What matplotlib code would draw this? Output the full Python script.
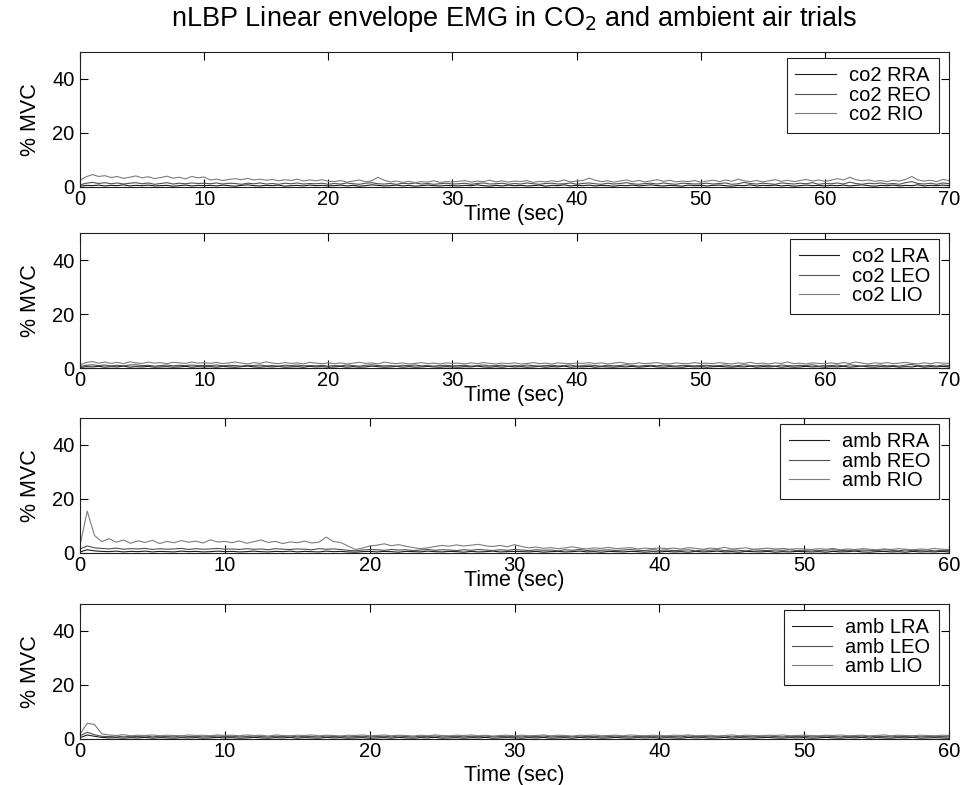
import numpy as np
import matplotlib
matplotlib.use('Agg')
import matplotlib.pyplot as plt

plt.rcParams['font.family'] = ['Liberation Sans', 'DejaVu Sans']

# sample times (s), half-second resolution
t_co2 = np.arange(0, 70.5, 0.5)
t_amb = np.arange(0, 60.5, 0.5)

# ---- co2, right side (% MVC) ----
co2_RRA = [0.3, 0.6, 0.5, 0.7, 0.4, 0.6, 0.5, 0.8, 0.4, 0.6, 0.5, 0.7, 0.4, 0.5, 0.6, 0.3, 0.5, 0.7, 0.4, 0.6, 0.5,
           0.6, 0.4, 0.7, 0.5, 0.3, 0.6, 0.8, 0.5, 0.4, 0.6, 0.5, 0.7, 0.3, 0.5, 0.6, 0.4, 0.7, 0.5, 0.6, 0.4,
           0.5, 0.7, 0.4, 0.6, 0.3, 0.5, 0.8, 0.6, 0.4, 0.5, 0.7, 0.4, 0.6, 0.3, 0.5, 0.7, 0.5, 0.4, 0.6, 0.5,
           0.4, 0.6, 0.5, 0.8, 0.5, 0.3, 0.6, 0.4, 0.7, 0.5, 0.6, 0.4, 0.5, 0.7, 0.3, 0.6, 0.5, 0.8, 0.4, 0.6,
           0.5, 0.7, 0.4, 0.6, 0.5, 0.3, 0.6, 0.5, 0.7, 0.4, 0.6, 0.8, 0.5, 0.4, 0.6, 0.5, 0.3, 0.7, 0.5, 0.6,
           0.4, 0.6, 0.7, 0.5, 0.3, 0.6, 0.5, 0.8, 0.4, 0.6, 0.5, 0.7, 0.4, 0.6, 0.3, 0.5, 0.7, 0.5, 0.6, 0.4,
           0.6, 0.5, 0.7, 0.4, 0.6, 0.8, 0.5, 0.3, 0.6, 0.5, 0.7, 0.4, 0.6, 0.5, 0.8, 0.4, 0.6, 0.5, 0.7, 0.5]
co2_REO = [0.8, 1.4, 1.7, 1.3, 1.6, 1.2, 1.5, 1.1, 1.4, 1.6, 1.2, 1.5, 1.0, 1.3, 1.6, 1.1, 1.4, 1.2, 1.5, 1.3, 1.4,
           1.2, 1.5, 1.1, 1.4, 1.3, 1.0, 1.4, 1.2, 1.5, 1.1, 1.3, 1.0, 1.4, 1.2, 1.5, 1.1, 1.3, 1.2, 1.4, 1.0,
           1.3, 1.1, 1.5, 1.2, 1.0, 1.4, 1.6, 1.2, 1.1, 1.3, 1.0, 1.4, 1.2, 1.5, 1.1, 1.3, 1.0, 1.2, 1.4, 1.1,
           1.2, 1.4, 1.0, 1.3, 1.5, 1.1, 1.2, 1.4, 1.0, 1.3, 1.1, 1.5, 1.2, 1.0, 1.3, 1.4, 1.1, 1.2, 1.5, 1.0,
           1.3, 1.5, 1.2, 1.0, 1.4, 1.1, 1.3, 1.6, 1.2, 1.0, 1.3, 1.4, 1.1, 1.5, 1.2, 1.0, 1.4, 1.3, 1.1, 1.2,
           1.4, 1.1, 1.3, 1.5, 1.0, 1.2, 1.7, 1.3, 1.1, 1.4, 1.2, 1.0, 1.5, 1.3, 1.1, 1.4, 1.2, 1.6, 1.0, 1.3,
           1.2, 1.5, 1.1, 1.8, 1.3, 1.0, 1.4, 1.2, 1.5, 1.1, 1.3, 1.0, 1.6, 2.0, 1.3, 1.1, 1.4, 1.0, 1.5, 1.2]
co2_RIO = [2.5, 3.8, 4.6, 3.9, 4.2, 3.5, 3.9, 3.2, 3.6, 4.1, 3.4, 3.8, 3.1, 3.5, 4.0, 3.3, 3.6, 3.0, 3.9, 3.4, 3.7,
           2.6, 2.9, 2.4, 2.8, 3.1, 2.7, 3.2, 2.6, 2.9, 2.5, 2.8, 2.3, 2.7, 2.4, 2.9, 2.2, 2.6, 2.3, 2.7, 2.1,
           2.0, 2.4, 1.8, 2.2, 2.6, 1.9, 2.3, 3.6, 2.5, 1.9, 2.2, 1.7, 2.1, 1.6, 2.0, 1.8, 2.3, 1.7, 2.0, 1.9,
           2.1, 2.4, 1.8, 2.2, 2.0, 2.5, 1.9, 2.3, 1.8, 2.2, 2.0, 2.4, 1.7, 2.1, 1.9, 2.3, 2.0, 2.6, 1.9, 2.2,
           2.4, 3.3, 2.5, 2.0, 2.3, 1.8, 2.2, 2.6, 2.0, 2.4, 1.9, 2.3, 2.7, 2.1, 2.5, 1.9, 2.2, 2.0, 2.4, 1.8,
           2.2, 2.5, 2.0, 2.6, 2.1, 2.9, 2.3, 2.0, 2.4, 1.9, 2.3, 2.7, 2.1, 2.5, 2.0, 2.4, 2.8, 2.2, 2.6, 2.1,
           2.5, 3.1, 2.6, 3.6, 2.7, 2.3, 2.6, 2.1, 2.4, 2.0, 2.5, 2.2, 2.8, 3.9, 2.6, 2.2, 2.5, 2.0, 2.8, 2.4]

# ---- co2, left side ----
co2_LRA = [0.2, 0.5, 0.4, 0.6, 0.3, 0.5, 0.4, 0.7, 0.3, 0.5, 0.4, 0.6, 0.3, 0.4, 0.5, 0.3, 0.4, 0.6, 0.3, 0.5, 0.4,
           0.5, 0.3, 0.6, 0.4, 0.3, 0.5, 0.7, 0.4, 0.3, 0.5, 0.4, 0.6, 0.3, 0.4, 0.5, 0.3, 0.6, 0.4, 0.5, 0.3,
           0.4, 0.6, 0.3, 0.5, 0.3, 0.4, 0.7, 0.5, 0.3, 0.4, 0.6, 0.3, 0.5, 0.3, 0.4, 0.6, 0.4, 0.3, 0.5, 0.4,
           0.3, 0.5, 0.4, 0.7, 0.4, 0.3, 0.5, 0.3, 0.6, 0.4, 0.5, 0.3, 0.4, 0.6, 0.3, 0.5, 0.4, 0.7, 0.3, 0.5,
           0.4, 0.6, 0.3, 0.5, 0.4, 0.3, 0.5, 0.4, 0.6, 0.3, 0.5, 0.7, 0.4, 0.3, 0.5, 0.4, 0.3, 0.6, 0.4, 0.5,
           0.3, 0.5, 0.6, 0.4, 0.3, 0.5, 0.4, 0.7, 0.3, 0.5, 0.4, 0.6, 0.3, 0.5, 0.3, 0.4, 0.6, 0.4, 0.5, 0.3,
           0.5, 0.4, 0.6, 0.3, 0.5, 0.7, 0.4, 0.3, 0.5, 0.4, 0.6, 0.3, 0.5, 0.4, 0.7, 0.3, 0.5, 0.4, 0.6, 0.4]
co2_LEO = [0.6, 1.0, 1.2, 0.9, 1.1, 0.8, 1.0, 0.8, 1.1, 1.2, 0.9, 1.0, 0.7, 0.9, 1.1, 0.8, 1.0, 0.9, 1.1, 0.9, 1.0,
           0.9, 1.1, 0.8, 1.0, 0.9, 0.7, 1.0, 0.9, 1.1, 0.8, 0.9, 0.7, 1.0, 0.9, 1.1, 0.8, 0.9, 0.8, 1.0, 0.7,
           0.9, 0.8, 1.1, 0.9, 0.7, 1.0, 1.2, 0.9, 0.8, 0.9, 0.7, 1.0, 0.9, 1.1, 0.8, 0.9, 0.7, 0.9, 1.0, 0.8,
           0.9, 1.0, 0.7, 0.9, 1.1, 0.8, 0.9, 1.0, 0.7, 0.9, 0.8, 1.1, 0.9, 0.7, 0.9, 1.0, 0.8, 0.9, 1.1, 0.7,
           0.9, 1.1, 0.9, 0.7, 1.0, 0.8, 0.9, 1.2, 0.9, 0.7, 0.9, 1.0, 0.8, 1.1, 0.9, 0.7, 1.0, 0.9, 0.8, 0.9,
           1.0, 0.8, 0.9, 1.1, 0.7, 0.9, 1.2, 0.9, 0.8, 1.0, 0.9, 0.7, 1.1, 0.9, 0.8, 1.0, 0.9, 1.2, 0.7, 0.9,
           0.9, 1.1, 0.8, 1.2, 0.9, 0.7, 1.0, 0.9, 1.1, 0.8, 0.9, 0.7, 1.1, 1.3, 0.9, 0.8, 1.0, 0.7, 1.1, 0.9]
co2_LIO = [1.2, 2.0, 2.4, 1.8, 2.2, 1.7, 2.1, 1.6, 2.3, 1.9, 1.7, 2.2, 1.8, 2.0, 1.6, 2.1, 1.9, 1.7, 2.2, 1.8, 2.0,
           1.7, 2.1, 1.6, 1.9, 2.2, 1.8, 1.5, 2.0, 1.7, 2.3, 1.8, 1.6, 2.0, 1.7, 1.9, 1.5, 2.1, 1.8, 1.6, 1.9,
           1.6, 1.9, 1.5, 1.8, 2.1, 1.7, 1.9, 1.5, 2.2, 1.8, 1.6, 1.9, 1.5, 1.7, 2.0, 1.6, 1.8, 1.5, 1.9, 1.7,
           1.8, 1.5, 1.9, 1.6, 2.0, 1.7, 1.5, 1.8, 1.6, 1.9, 1.5, 1.7, 2.0, 1.6, 1.8, 1.5, 1.9, 1.7, 1.6, 1.8,
           1.7, 2.0, 1.6, 1.9, 1.5, 1.8, 2.1, 1.7, 1.5, 1.9, 1.6, 1.8, 2.0, 1.6, 1.5, 1.9, 1.7, 1.6, 2.0, 1.7,
           1.8, 1.6, 2.0, 1.7, 1.5, 1.9, 1.7, 2.1, 1.6, 1.8, 1.5, 1.9, 1.7, 2.2, 1.6, 1.8, 1.5, 1.9, 1.7, 1.6,
           1.9, 1.6, 2.0, 1.7, 2.2, 1.8, 1.5, 1.9, 1.7, 2.0, 1.6, 1.8, 2.1, 1.7, 1.5, 1.9, 1.6, 2.0, 1.8, 1.7]

# ---- ambient, right side ----
amb_RRA = [0.4, 1.2, 0.8, 0.6, 0.5, 0.7, 0.4, 0.6, 0.5, 0.7, 0.4, 0.6, 0.5, 0.4, 0.7, 0.5, 0.6, 0.4, 0.5, 0.7, 0.5,
           0.6, 0.4, 0.5, 0.7, 0.5, 0.4, 0.6, 0.5, 0.7, 0.4, 0.6, 0.5, 0.4, 0.7, 0.5, 0.6, 0.4, 0.3, 0.5, 0.6,
           0.4, 0.6, 0.5, 0.3, 0.6, 0.5, 0.4, 0.7, 0.5, 0.4, 0.6, 0.5, 0.3, 0.6, 0.4, 0.5, 0.7, 0.4, 0.5, 0.6,
           0.5, 0.4, 0.6, 0.3, 0.5, 0.6, 0.4, 0.5, 0.7, 0.4, 0.5, 0.3, 0.6, 0.5, 0.4, 0.6, 0.5, 0.3, 0.5, 0.4,
           0.6, 0.4, 0.5, 0.3, 0.6, 0.4, 0.5, 0.7, 0.4, 0.5, 0.3, 0.6, 0.5, 0.4, 0.6, 0.3, 0.5, 0.4, 0.6, 0.5,
           0.4, 0.5, 0.3, 0.6, 0.4, 0.5, 0.7, 0.4, 0.3, 0.5, 0.6, 0.4, 0.5, 0.3, 0.6, 0.4, 0.5, 0.4, 0.6, 0.4]
amb_REO = [1.5, 2.6, 1.9, 1.7, 1.5, 1.8, 1.4, 1.6, 1.5, 1.7, 1.3, 1.6, 1.4, 1.5, 1.7, 1.3, 1.6, 1.4, 1.5, 1.7, 1.4,
           1.5, 1.3, 1.6, 1.4, 1.5, 1.2, 1.6, 1.4, 1.3, 1.5, 1.4, 1.2, 1.6, 1.4, 1.5, 1.3, 1.0, 0.8, 1.1, 1.3,
           1.2, 1.0, 1.3, 1.1, 1.2, 0.9, 1.1, 1.3, 1.0, 1.2, 1.1, 0.9, 1.2, 1.0, 1.3, 1.1, 0.9, 1.2, 1.0, 1.3,
           1.1, 0.9, 1.2, 1.0, 1.1, 0.8, 1.2, 1.0, 1.3, 0.9, 1.1, 1.0, 1.2, 0.9, 1.1, 1.3, 1.0, 0.9, 1.2, 1.0,
           1.1, 0.9, 1.0, 1.2, 0.8, 1.1, 1.0, 1.2, 0.9, 1.1, 1.0, 0.8, 1.2, 1.0, 0.9, 1.1, 1.0, 1.2, 0.9, 1.0,
           1.1, 0.9, 1.0, 1.2, 0.9, 1.0, 0.8, 1.1, 1.0, 0.9, 1.2, 1.0, 0.8, 1.1, 0.9, 1.0, 1.1, 0.8, 1.0, 0.9]
amb_RIO = [2.8, 15.5, 6.5, 4.2, 5.3, 4.0, 4.8, 3.6, 4.5, 3.9, 4.7, 3.5, 4.3, 3.8, 4.6, 4.0, 4.4, 3.7, 4.9, 4.1, 4.3,
           3.8, 4.5, 3.6, 4.2, 4.8, 3.9, 4.3, 3.5, 4.1, 3.8, 4.4, 3.7, 4.0, 5.9, 4.2, 3.9, 2.6, 1.3, 1.8, 2.6,
           2.9, 3.4, 2.7, 3.1, 2.5, 2.0, 1.6, 1.9, 2.4, 2.8, 2.5, 3.0, 2.6, 2.9, 3.2, 2.7, 2.4, 2.8, 2.3, 3.1,
           2.4, 1.9, 2.2, 1.7, 2.0, 1.6, 1.9, 2.3, 1.8, 1.5, 1.9, 1.7, 2.1, 1.6, 1.8, 2.0, 1.5, 1.8, 1.6, 1.9,
           1.6, 1.8, 1.5, 2.0, 1.7, 1.4, 1.8, 1.6, 2.1, 1.5, 1.7, 1.9, 1.4, 1.6, 1.8, 1.5, 1.7, 1.4, 1.6, 1.5,
           1.3, 1.6, 1.4, 1.7, 1.2, 1.5, 1.3, 1.6, 1.4, 1.2, 1.5, 1.3, 1.6, 1.4, 1.2, 1.5, 1.3, 1.7, 1.4, 1.3]

# ---- ambient, left side ----
amb_LRA = [0.5, 1.5, 1.0, 0.6, 0.4, 0.5, 0.3, 0.5, 0.4, 0.6, 0.3, 0.5, 0.4, 0.3, 0.5, 0.4, 0.5, 0.3, 0.4, 0.6, 0.4,
           0.5, 0.3, 0.4, 0.6, 0.4, 0.3, 0.5, 0.4, 0.6, 0.3, 0.5, 0.4, 0.3, 0.6, 0.4, 0.5, 0.3, 0.4, 0.5, 0.3,
           0.4, 0.5, 0.3, 0.6, 0.4, 0.3, 0.5, 0.4, 0.6, 0.3, 0.4, 0.5, 0.3, 0.5, 0.4, 0.6, 0.3, 0.4, 0.5, 0.4,
           0.3, 0.5, 0.4, 0.6, 0.3, 0.4, 0.5, 0.3, 0.6, 0.4, 0.5, 0.3, 0.4, 0.6, 0.4, 0.3, 0.5, 0.4, 0.5, 0.3,
           0.5, 0.4, 0.3, 0.6, 0.4, 0.5, 0.3, 0.4, 0.6, 0.3, 0.5, 0.4, 0.3, 0.5, 0.6, 0.4, 0.3, 0.5, 0.4, 0.5,
           0.3, 0.4, 0.6, 0.4, 0.3, 0.5, 0.4, 0.6, 0.3, 0.5, 0.4, 0.3, 0.5, 0.4, 0.6, 0.3, 0.4, 0.5, 0.4, 0.3]
amb_LEO = [1.2, 2.5, 1.6, 1.0, 0.9, 1.1, 0.8, 1.0, 0.9, 1.1, 0.8, 1.0, 0.9, 0.8, 1.1, 0.9, 1.0, 0.8, 0.9, 1.1, 0.9,
           1.0, 0.8, 0.9, 1.1, 0.9, 0.8, 1.0, 0.9, 1.1, 0.8, 1.0, 0.9, 0.8, 1.1, 0.9, 1.0, 0.8, 0.9, 1.0, 0.8,
           0.9, 1.0, 0.8, 1.1, 0.9, 0.8, 1.0, 0.9, 1.1, 0.8, 0.9, 1.0, 0.8, 1.0, 0.9, 1.1, 0.8, 0.9, 1.0, 0.9,
           0.8, 1.0, 0.9, 1.1, 0.8, 0.9, 1.0, 0.8, 1.1, 0.9, 1.0, 0.8, 0.9, 1.1, 0.9, 0.8, 1.0, 0.9, 1.0, 0.8,
           1.0, 0.9, 0.8, 1.1, 0.9, 1.0, 0.8, 0.9, 1.1, 0.8, 1.0, 0.9, 0.8, 1.0, 1.1, 0.9, 0.8, 1.0, 0.9, 1.0,
           0.8, 0.9, 1.1, 0.9, 0.8, 1.0, 0.9, 1.1, 0.8, 1.0, 0.9, 0.8, 1.0, 0.9, 1.1, 0.8, 0.9, 1.0, 0.9, 0.8]
amb_LIO = [1.8, 5.8, 5.4, 1.9, 1.5, 1.3, 1.6, 1.2, 1.4, 1.3, 1.5, 1.2, 1.4, 1.3, 1.2, 1.5, 1.3, 1.4, 1.2, 1.5, 1.3,
           1.4, 1.2, 1.5, 1.3, 1.4, 1.1, 1.5, 1.3, 1.2, 1.4, 1.3, 1.5, 1.2, 1.4, 1.3, 1.1, 1.4, 1.3, 1.5, 1.2,
           1.3, 1.5, 1.2, 1.4, 1.3, 1.1, 1.4, 1.2, 1.5, 1.3, 1.2, 1.4, 1.3, 1.5, 1.2, 1.4, 1.1, 1.3, 1.4, 1.2,
           1.4, 1.2, 1.3, 1.5, 1.2, 1.4, 1.3, 1.1, 1.4, 1.3, 1.5, 1.2, 1.3, 1.4, 1.2, 1.5, 1.3, 1.2, 1.4, 1.3,
           1.2, 1.4, 1.3, 1.5, 1.2, 1.3, 1.4, 1.1, 1.3, 1.5, 1.2, 1.4, 1.3, 1.2, 1.4, 1.3, 1.5, 1.2, 1.3, 1.4,
           1.3, 1.2, 1.4, 1.3, 1.5, 1.2, 1.3, 1.4, 1.2, 1.3, 1.5, 1.2, 1.4, 1.3, 1.2, 1.4, 1.3, 1.2, 1.4, 1.3]

panels = [
    (t_co2, [co2_RRA, co2_REO, co2_RIO], ['co2 RRA', 'co2 REO', 'co2 RIO'], 70),
    (t_co2, [co2_LRA, co2_LEO, co2_LIO], ['co2 LRA', 'co2 LEO', 'co2 LIO'], 70),
    (t_amb, [amb_RRA, amb_REO, amb_RIO], ['amb RRA', 'amb REO', 'amb RIO'], 60),
    (t_amb, [amb_LRA, amb_LEO, amb_LIO], ['amb LRA', 'amb LEO', 'amb LIO'], 60),
]
colors = ['#1e1e1e', '#505050', '#7c7c7c']

fig = plt.figure(figsize=(9.63, 7.85), dpi=100)
fig.patch.set_facecolor('white')

W, H = 963., 785.
left, right = 80, 949
bottoms = [187, 368, 553, 739]  # pixel rows of each axes bottom
xlab_y = [-0.125, -0.125, -0.125, -0.19]
height = 135
aw = right - left

for (t, series, labels, tmax), bot, ly in zip(panels, bottoms, xlab_y):
    ax = fig.add_axes([left / W, 1 - bot / H, aw / W, height / H])
    for y, lab, c in zip(series, labels, colors):
        ax.plot(t, y, color=c, lw=0.8, label=lab)
    ax.set_xlim(0, tmax)
    ax.set_ylim(0, 50)
    ax.set_xticks(np.arange(0, tmax + 1, 10))
    ax.set_yticks([0, 20, 40])
    ax.tick_params(direction='in', length=6, width=0.8, labelsize=14.5,
                   top=True, right=True, colors='black')
    ax.tick_params(axis='x', pad=2)
    ax.tick_params(axis='y', pad=4)
    for s in ax.spines.values():
        s.set_linewidth(0.8)
        s.set_color('#202020')
    ax.set_xlabel('Time (sec)', fontsize=15.5)
    ax.xaxis.set_label_coords(0.5, ly)
    ax.set_ylabel('% MVC', fontsize=15.5)
    ax.yaxis.set_label_coords(-0.045, 0.5)
    leg = ax.legend(loc='upper right', bbox_to_anchor=(1 - 10 / aw, 1 - 6 / height),
                    borderaxespad=0, fontsize=14.5, frameon=True, fancybox=False,
                    edgecolor='#202020', framealpha=1, handlelength=2.0,
                    handletextpad=0.65, labelspacing=0.02, borderpad=0.42)
    leg.get_frame().set_linewidth(0.8)

fig.text((left + right) / 2 / W, 1 - 19 / H,
         'nLBP Linear envelope EMG in CO$_2$ and ambient air trials',
         ha='center', va='center', fontsize=19.5)

fig.savefig('out.png', dpi=100, facecolor='white')
